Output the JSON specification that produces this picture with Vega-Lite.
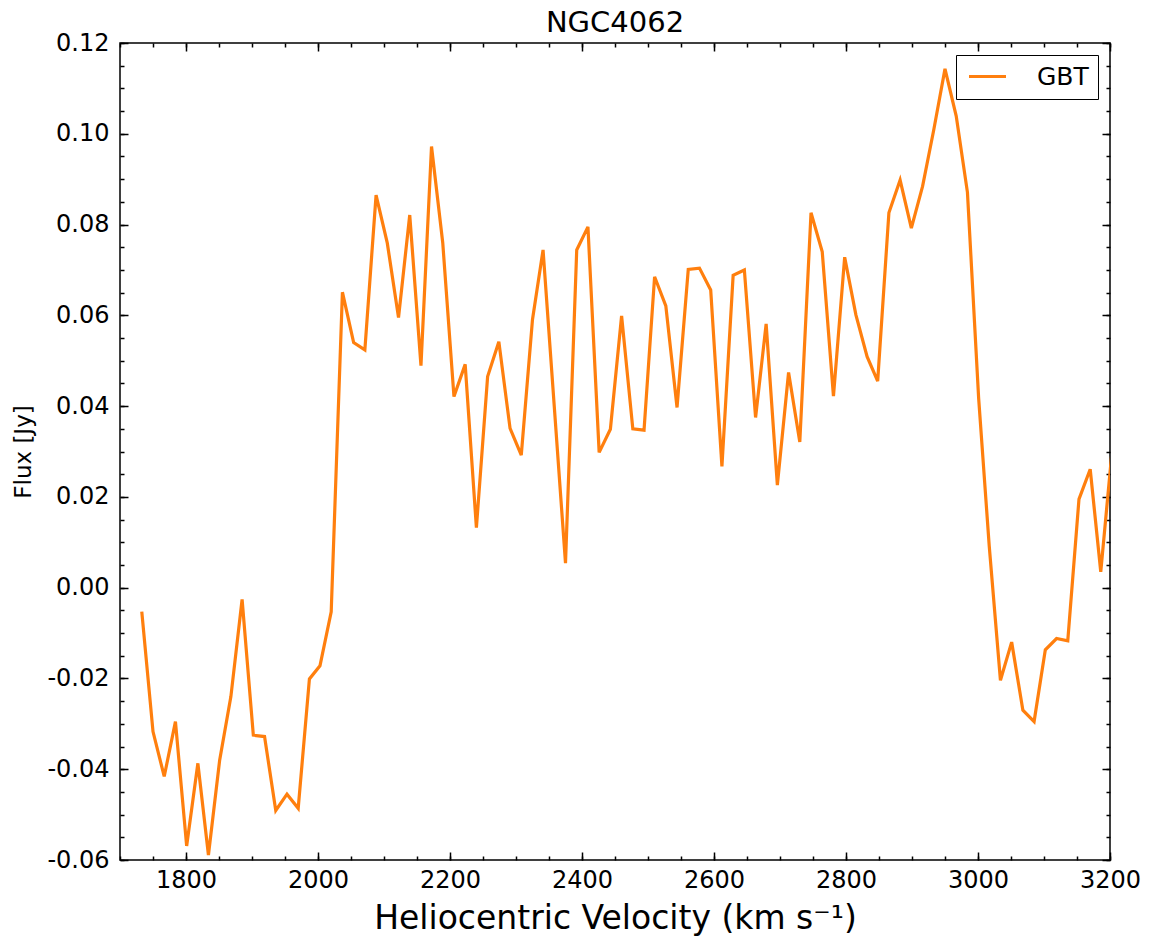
{
  "$schema": "https://vega.github.io/schema/vega-lite/v6.json",
  "width": 990,
  "height": 817,
  "autosize": {"type": "none"},
  "padding": {"left": 120, "top": 43, "right": 39, "bottom": 76},
  "background": "white",
  "title": {"text": "NGC4062", "fontSize": 29, "fontWeight": "normal", "font": "DejaVu Sans", "color": "black", "offset": -7, "anchor": "middle"},
  "data": {"values": [
    {"velocity": 1733, "flux": -0.0053}, {"velocity": 1750, "flux": -0.0317}, {"velocity": 1767, "flux": -0.0416}, {"velocity": 1784, "flux": -0.0295},
    {"velocity": 1801, "flux": -0.0569}, {"velocity": 1818, "flux": -0.0387}, {"velocity": 1834, "flux": -0.0589}, {"velocity": 1851, "flux": -0.0380},
    {"velocity": 1868, "flux": -0.0240}, {"velocity": 1885, "flux": -0.0026}, {"velocity": 1902, "flux": -0.0325}, {"velocity": 1919, "flux": -0.0328},
    {"velocity": 1936, "flux": -0.0491}, {"velocity": 1953, "flux": -0.0455}, {"velocity": 1970, "flux": -0.0486}, {"velocity": 1987, "flux": -0.0201},
    {"velocity": 2003, "flux": -0.0172}, {"velocity": 2020, "flux": -0.0053}, {"velocity": 2037, "flux": 0.0651}, {"velocity": 2054, "flux": 0.0540},
    {"velocity": 2071, "flux": 0.0524}, {"velocity": 2088, "flux": 0.0865}, {"velocity": 2105, "flux": 0.0759}, {"velocity": 2122, "flux": 0.0595},
    {"velocity": 2139, "flux": 0.0821}, {"velocity": 2156, "flux": 0.0489}, {"velocity": 2172, "flux": 0.0972}, {"velocity": 2189, "flux": 0.0760},
    {"velocity": 2206, "flux": 0.0421}, {"velocity": 2223, "flux": 0.0492}, {"velocity": 2240, "flux": 0.0132}, {"velocity": 2257, "flux": 0.0465},
    {"velocity": 2274, "flux": 0.0542}, {"velocity": 2291, "flux": 0.0351}, {"velocity": 2308, "flux": 0.0292}, {"velocity": 2325, "flux": 0.0591},
    {"velocity": 2341, "flux": 0.0744}, {"velocity": 2358, "flux": 0.0399}, {"velocity": 2375, "flux": 0.0054}, {"velocity": 2392, "flux": 0.0744},
    {"velocity": 2409, "flux": 0.0795}, {"velocity": 2426, "flux": 0.0298}, {"velocity": 2443, "flux": 0.0349}, {"velocity": 2460, "flux": 0.0599},
    {"velocity": 2477, "flux": 0.0350}, {"velocity": 2494, "flux": 0.0347}, {"velocity": 2510, "flux": 0.0685}, {"velocity": 2527, "flux": 0.0621},
    {"velocity": 2544, "flux": 0.0397}, {"velocity": 2561, "flux": 0.0701}, {"velocity": 2578, "flux": 0.0704}, {"velocity": 2595, "flux": 0.0656},
    {"velocity": 2612, "flux": 0.0267}, {"velocity": 2629, "flux": 0.0688}, {"velocity": 2646, "flux": 0.0700}, {"velocity": 2663, "flux": 0.0375},
    {"velocity": 2679, "flux": 0.0581}, {"velocity": 2696, "flux": 0.0226}, {"velocity": 2713, "flux": 0.0474}, {"velocity": 2730, "flux": 0.0321},
    {"velocity": 2747, "flux": 0.0826}, {"velocity": 2764, "flux": 0.0740}, {"velocity": 2781, "flux": 0.0422}, {"velocity": 2798, "flux": 0.0728},
    {"velocity": 2815, "flux": 0.0601}, {"velocity": 2832, "flux": 0.0509}, {"velocity": 2848, "flux": 0.0455}, {"velocity": 2865, "flux": 0.0826},
    {"velocity": 2882, "flux": 0.0898}, {"velocity": 2899, "flux": 0.0792}, {"velocity": 2916, "flux": 0.0884}, {"velocity": 2933, "flux": 0.1009},
    {"velocity": 2950, "flux": 0.1143}, {"velocity": 2967, "flux": 0.1039}, {"velocity": 2984, "flux": 0.0871}, {"velocity": 3001, "flux": 0.0417},
    {"velocity": 3017, "flux": 0.0092}, {"velocity": 3034, "flux": -0.0204}, {"velocity": 3051, "flux": -0.0120}, {"velocity": 3068, "flux": -0.0270},
    {"velocity": 3085, "flux": -0.0295}, {"velocity": 3102, "flux": -0.0137}, {"velocity": 3119, "flux": -0.0112}, {"velocity": 3136, "flux": -0.0117},
    {"velocity": 3153, "flux": 0.0195}, {"velocity": 3170, "flux": 0.0261}, {"velocity": 3186, "flux": 0.0035}, {"velocity": 3203, "flux": 0.0300}
  ]},
  "config": {
    "view": {"stroke": "black", "strokeWidth": 1.5},
    "axis": {"domain": false, "grid": false, "labelFont": "DejaVu Sans", "titleFont": "DejaVu Sans", "labelColor": "black", "titleColor": "black", "tickColor": "black", "tickWidth": 1.5, "titleFontWeight": "normal"},
    "legend": {"strokeWidth": 1}
  },
  "layer": [
    {
      "mark": {"type": "line", "color": "#ff7f0e", "strokeWidth": 3.2, "clip": true},
      "encoding": {
        "x": {"field": "velocity", "type": "quantitative", "scale": {"domain": [1700, 3200], "nice": false, "zero": false},
          "axis": {"orient": "bottom", "values": [1800, 2000, 2200, 2400, 2600, 2800, 3000, 3200], "tickSize": -8, "labelPadding": 16, "format": "d", "labelFontSize": 24, "labelFlush": false, "labelOverlap": false,
            "title": "Heliocentric Velocity (km s⁻¹)", "titleFontSize": 33, "titlePadding": 10}},
        "y": {"field": "flux", "type": "quantitative", "scale": {"domain": [-0.06, 0.12], "nice": false, "zero": false},
          "axis": {"orient": "left", "values": [-0.06, -0.04, -0.02, 0, 0.02, 0.04, 0.06, 0.08, 0.1, 0.12], "tickSize": -8, "labelPadding": 19, "labelFontSize": 24, "labelFlush": false, "labelOverlap": false,
            "labelExpr": "datum.value < -0.000001 ? '-' + format(-datum.value, '.2f') : format(abs(datum.value), '.2f')",
            "title": "Flux [Jy]", "titleFontSize": 23, "titlePadding": 11}},
        "color": {"datum": "GBT", "type": "nominal", "scale": {"range": ["#ff7f0e"]},
          "legend": {"title": null, "orient": "top-right", "offset": 12, "strokeColor": "black", "fillColor": "white", "padding": 9, "cornerRadius": 0,
            "symbolType": "M-2,0H2", "symbolSize": 342, "symbolStrokeWidth": 3, "symbolOffset": 10, "labelFontSize": 25, "labelFont": "DejaVu Sans", "labelColor": "black", "labelOffset": 37}}
      }
    },
    {
      "mark": {"type": "line", "opacity": 0},
      "encoding": {
        "x": {"field": "velocity", "type": "quantitative", "scale": {"domain": [1700, 3200], "nice": false, "zero": false},
          "axis": {"orient": "top", "values": [1800, 2000, 2200, 2400, 2600, 2800, 3000, 3200], "tickSize": -8, "labels": false, "title": null}},
        "y": {"field": "flux", "type": "quantitative", "scale": {"domain": [-0.06, 0.12], "nice": false, "zero": false},
          "axis": {"orient": "right", "values": [-0.06, -0.04, -0.02, 0, 0.02, 0.04, 0.06, 0.08, 0.1, 0.12], "tickSize": -8, "labels": false, "title": null}}
      }
    },
    {
      "mark": {"type": "line", "opacity": 0},
      "encoding": {
        "x": {"field": "velocity", "type": "quantitative", "scale": {"domain": [1700, 3200], "nice": false, "zero": false},
          "axis": {"orient": "bottom", "values": [1700, 1750, 1800, 1850, 1900, 1950, 2000, 2050, 2100, 2150, 2200, 2250, 2300, 2350, 2400, 2450, 2500, 2550, 2600, 2650, 2700, 2750, 2800, 2850, 2900, 2950, 3000, 3050, 3100, 3150, 3200], "tickSize": -4, "labels": false, "title": null}},
        "y": {"field": "flux", "type": "quantitative", "scale": {"domain": [-0.06, 0.12], "nice": false, "zero": false},
          "axis": {"orient": "left", "values": [-0.06, -0.055, -0.05, -0.045, -0.04, -0.035, -0.03, -0.025, -0.02, -0.015, -0.01, -0.005, 0, 0.005, 0.01, 0.015, 0.02, 0.025, 0.03, 0.035, 0.04, 0.045, 0.05, 0.055, 0.06, 0.065, 0.07, 0.075, 0.08, 0.085, 0.09, 0.095, 0.1, 0.105, 0.11, 0.115, 0.12], "tickSize": -4, "labels": false, "title": null}}
      }
    },
    {
      "mark": {"type": "line", "opacity": 0},
      "encoding": {
        "x": {"field": "velocity", "type": "quantitative", "scale": {"domain": [1700, 3200], "nice": false, "zero": false},
          "axis": {"orient": "top", "values": [1700, 1750, 1800, 1850, 1900, 1950, 2000, 2050, 2100, 2150, 2200, 2250, 2300, 2350, 2400, 2450, 2500, 2550, 2600, 2650, 2700, 2750, 2800, 2850, 2900, 2950, 3000, 3050, 3100, 3150, 3200], "tickSize": -4, "labels": false, "title": null}},
        "y": {"field": "flux", "type": "quantitative", "scale": {"domain": [-0.06, 0.12], "nice": false, "zero": false},
          "axis": {"orient": "right", "values": [-0.06, -0.055, -0.05, -0.045, -0.04, -0.035, -0.03, -0.025, -0.02, -0.015, -0.01, -0.005, 0, 0.005, 0.01, 0.015, 0.02, 0.025, 0.03, 0.035, 0.04, 0.045, 0.05, 0.055, 0.06, 0.065, 0.07, 0.075, 0.08, 0.085, 0.09, 0.095, 0.1, 0.105, 0.11, 0.115, 0.12], "tickSize": -4, "labels": false, "title": null}}
      }
    }
  ],
  "resolve": {"axis": {"x": "independent", "y": "independent"}}
}
